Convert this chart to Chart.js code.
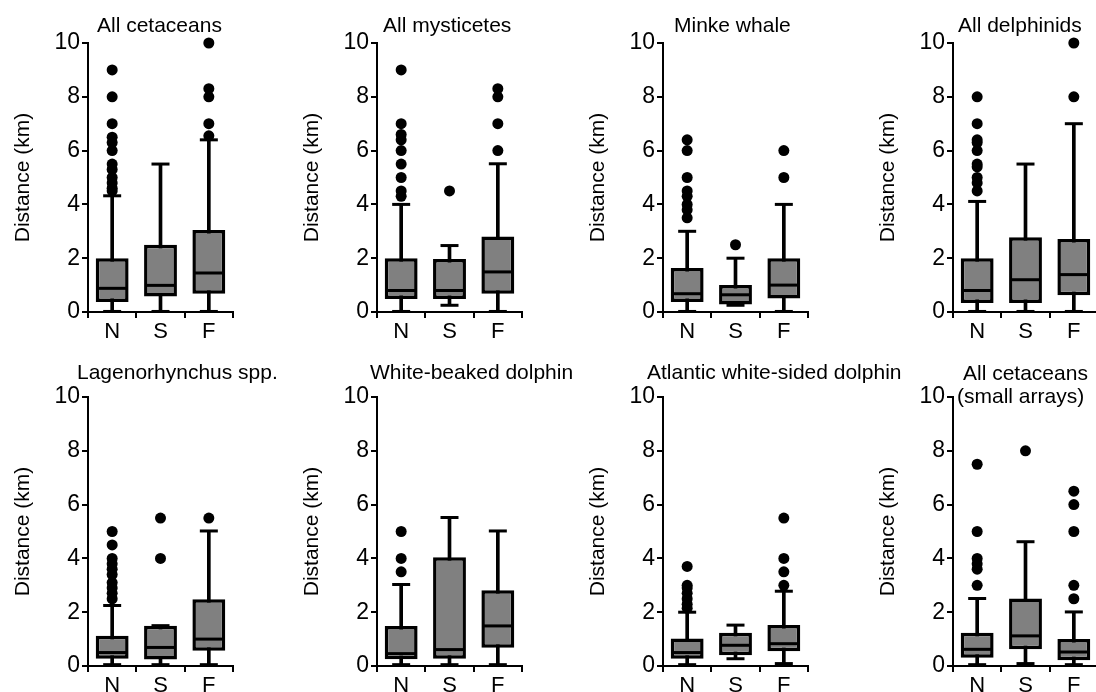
<!DOCTYPE html>
<html><head><meta charset="utf-8">
<script src="https://cdn.jsdelivr.net/npm/chart.js@4"></script>
<style>
html,body{margin:0;padding:0;background:#fff;width:1096px;height:692px;overflow:hidden;position:relative}
canvas{position:absolute}
</style></head><body>
<script>
// ---------- data ----------
const categories = ['N', 'S', 'F'];
const panelTitles = [
  ['All cetaceans'], ['All mysticetes'], ['Minke whale'], ['All delphinids'],
  ['Lagenorhynchus spp.'], ['White-beaked dolphin'], ['Atlantic white-sided dolphin'],
  ['All cetaceans', '(small arrays)']
];
const yAxisTitle = 'Distance (km)';
const yTicks = [0, 2, 4, 6, 8, 10];

// whisker low ends per panel [N, S, F]
const mins = [
  [0.02, 0.02, 0.02], [0.02, 0.25, 0.02], [0.02, 0.25, 0.02], [0.02, 0.02, 0.02],
  [0.05, 0.05, 0.05], [0.05, 0.05, 0.05], [0.05, 0.27, 0.09], [0.05, 0.09, 0.05]
];
const q1s = [
  [0.37, 0.58, 0.68], [0.48, 0.48, 0.68], [0.37, 0.28, 0.50], [0.33, 0.33, 0.62],
  [0.27, 0.24, 0.57], [0.25, 0.27, 0.68], [0.27, 0.40, 0.55], [0.31, 0.62, 0.21]
];
const medians = [
  [0.88, 0.99, 1.45], [0.80, 0.80, 1.49], [0.68, 0.64, 1.00], [0.80, 1.20, 1.39],
  [0.50, 0.69, 1.00], [0.46, 0.61, 1.49], [0.50, 0.77, 0.83], [0.62, 1.12, 0.52]
];
const q3s = [
  [2.00, 2.50, 3.05], [2.00, 1.97, 2.81], [1.64, 1.00, 2.00], [2.00, 2.78, 2.71],
  [1.12, 1.50, 2.48], [1.49, 4.04, 2.82], [1.02, 1.24, 1.52], [1.24, 2.51, 1.00]
];
const maxs = [
  [4.32, 5.50, 6.40], [4.00, 2.47, 5.51], [3.00, 2.00, 4.00], [4.11, 5.50, 7.00],
  [2.25, 1.50, 5.02], [3.03, 5.52, 5.02], [2.00, 1.52, 2.78], [2.51, 4.62, 2.01]
];
const outliers = [
  [[9, 8, 7, 6.5, 6.3, 6.0, 5.5, 5.3, 5.0, 4.8, 4.6, 4.5], [], [10, 8.3, 8.0, 7.0, 6.55]],
  [[9, 7, 6.6, 6.4, 6.0, 5.5, 5.0, 4.5, 4.3], [4.5], [8.3, 8.0, 7.0, 6.0]],
  [[6.4, 6.0, 5.0, 4.5, 4.3, 4.0, 3.8, 3.5], [2.5], [6.0, 5.0]],
  [[8, 7, 6.4, 6.3, 6.0, 5.5, 5.4, 5.0, 4.8, 4.5], [], [10, 8]],
  [[5.0, 4.5, 4.0, 3.8, 3.6, 3.4, 3.1, 2.9, 2.7, 2.5], [5.5, 4.0], [5.5]],
  [[5.0, 4.0, 3.5], [], []],
  [[3.7, 3.0, 2.9, 2.7, 2.5, 2.3, 2.15], [], [5.5, 4.0, 3.5, 3.0]],
  [[7.5, 5.0, 4.0, 3.8, 3.6, 3.0], [8.0], [6.5, 6.0, 5.0, 3.0, 2.5]]
];

// ---------- layout / style ----------
const FONT = '"Liberation Sans", Arial, Helvetica, sans-serif';
const axisX = [88, 377, 663, 953];
const rowTop = [0, 354];
const titleLeft = [[9], [6], [11], [5], [-11], [-7], [-16], [10, 4]];
const titleBase = [[32], [32], [32], [32], [25], [25], [25], [26, 49]];
const CW = 350, CH = 345, PLOT_R = 233;

Chart.defaults.font.family = FONT;
Chart.defaults.color = '#000';

const panelText = {
  id: 'panelText',
  afterDraw(chart, args, opts) {
    const { ctx, chartArea: a } = chart;
    ctx.save();
    ctx.fillStyle = '#000';
    ctx.font = '21px ' + FONT;
    ctx.textAlign = 'left';
    ctx.textBaseline = 'alphabetic';
    opts.lines.forEach((t, k) => ctx.fillText(t, a.left + opts.lefts[k], opts.bases[k]));
    ctx.translate(a.left - 65, (a.top + a.bottom) / 2);
    ctx.rotate(-Math.PI / 2);
    ctx.textAlign = 'center';
    ctx.textBaseline = 'middle';
    ctx.fillText(yAxisTitle, 0, 0);
    ctx.restore();
  }
};

function makeChart(i) {
  const cv = document.createElement('canvas');
  cv.width = CW; cv.height = CH;
  cv.style.width = CW + 'px'; cv.style.height = CH + 'px';
  cv.style.left = (axisX[i % 4] - 88) + 'px';
  cv.style.top = rowTop[Math.floor(i / 4)] + 'px';
  document.body.appendChild(cv);

  const outPts = [];
  categories.forEach((c, j) => outliers[i][j].forEach(v => outPts.push({ x: c, y: v })));

  const capStyle = { type: 'line', showLine: false, pointStyle: 'line', pointRadius: 9,
    pointBorderColor: '#000', pointBorderWidth: 3, clip: false };

  new Chart(cv, {
    type: 'bar',
    data: {
      labels: categories,
      datasets: [
        { type: 'line', data: outPts, showLine: false, pointRadius: 5.5, pointBackgroundColor: '#000',
          pointBorderColor: '#000', pointBorderWidth: 0, clip: false },
        { type: 'line', data: medians[i], showLine: false, pointStyle: 'line', pointRadius: 15,
          pointBorderColor: '#000', pointBorderWidth: 3, clip: false },
        { type: 'bar', data: categories.map((c, j) => [q1s[i][j], q3s[i][j]]),
          backgroundColor: '#808080', borderColor: '#000', borderWidth: 3.5, borderSkipped: false,
          grouped: false, barPercentage: 0.68, categoryPercentage: 1 },
        Object.assign({ data: mins[i] }, capStyle),
        Object.assign({ data: maxs[i] }, capStyle),
        { type: 'bar', data: categories.map((c, j) => [mins[i][j], maxs[i][j]]),
          backgroundColor: '#000', borderWidth: 0, barThickness: 3, grouped: false }
      ]
    },
    options: {
      responsive: false,
      animation: false,
      events: [],
      devicePixelRatio: 1,
      layout: { padding: { top: 43, left: 0, right: CW - PLOT_R, bottom: 0 } },
      plugins: {
        legend: { display: false },
        tooltip: { enabled: false },
        title: { display: false },
        panelText: { lines: panelTitles[i], lefts: titleLeft[i], bases: titleBase[i] }
      },
      scales: {
        x: {
          offset: true,
          grid: { offset: true, drawOnChartArea: false, drawTicks: true, tickLength: 6, color: '#000', lineWidth: 2 },
          border: { display: true, color: '#000', width: 2 },
          ticks: { color: '#000', font: { family: FONT, size: 22 }, padding: 1, maxRotation: 0 },
          afterFit: s => { s.height = CH - 312; }
        },
        y: {
          min: 0, max: 10,
          afterBuildTicks: s => { s.ticks = yTicks.map(v => ({ value: v })); },
          grid: { drawOnChartArea: false, drawTicks: true, tickLength: 6, color: '#000', lineWidth: 2 },
          border: { display: true, color: '#000', width: 2 },
          ticks: { color: '#000', font: { family: FONT, size: 23 }, padding: 2 },
          afterFit: s => { s.width = 88; }
        }
      }
    },
    plugins: [panelText]
  });
}

for (let i = 0; i < 8; i++) makeChart(i);
</script>
</body></html>
